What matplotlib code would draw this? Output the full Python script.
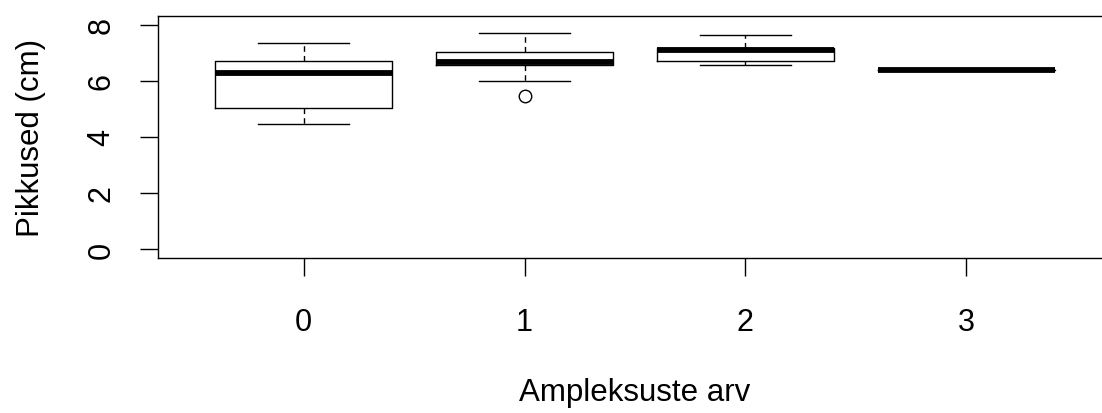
import matplotlib.pyplot as plt

# box statistics (R style boxplot)
groups = ['0', '1', '2', '3']
whislo = [4.47, 5.99, 6.57, 6.40]
q1 = [5.04, 6.58, 6.71, 6.40]
med = [6.27, 6.68, 7.12, 6.40]
q3 = [6.71, 7.05, 7.16, 6.40]
whishi = [7.35, 7.71, 7.65, 6.40]
fliers = [[], [5.47], [], []]

plt.rcParams['font.family'] = ['Liberation Sans', 'DejaVu Sans']

stats = []
for i in range(len(groups)):
    stats.append(dict(label=groups[i], whislo=whislo[i], q1=q1[i], med=med[i],
                      q3=q3[i], whishi=whishi[i], fliers=fliers[i]))

fig = plt.figure(figsize=(11.02, 4.14), dpi=100)
ax = fig.add_axes([158 / 1102, (414 - 259) / 414, (1112 - 158) / 1102, (259 - 17) / 414])

ax.bxp(stats, positions=[1, 2, 3, 4], widths=0.8, capwidths=0.41,
       boxprops=dict(color='black', linewidth=1.0),
       medianprops=dict(color='black', linewidth=4.2, solid_capstyle='butt'),
       whiskerprops=dict(color='black', linewidth=1.0, linestyle=(0, (4, 3))),
       capprops=dict(color='black', linewidth=1.0),
       flierprops=dict(marker='o', markersize=9, markerfacecolor='none',
                       markeredgecolor='black', markeredgewidth=1.0))

ax.set_xlim(0.34, 4.66)
ax.set_ylim(-0.32, 8.32)
ax.set_yticks([0, 2, 4, 6, 8])
ax.set_xticks([1, 2, 3, 4])
ax.set_xticklabels(groups)
for lab in ax.get_yticklabels():
    lab.set_rotation(90)
    lab.set_va('center')

ax.tick_params(axis='both', length=13, width=1.0, labelsize=22, color='black')
ax.tick_params(axis='x', pad=22)
ax.tick_params(axis='y', pad=17)
for s in ax.spines.values():
    s.set_linewidth(1.0)

ax.set_xlabel('Ampleksuste arv', fontsize=22.5, labelpad=29)
ax.set_ylabel('Pikkused (cm)', fontsize=22.5, labelpad=29)

fig.savefig('out.png', dpi=100)
